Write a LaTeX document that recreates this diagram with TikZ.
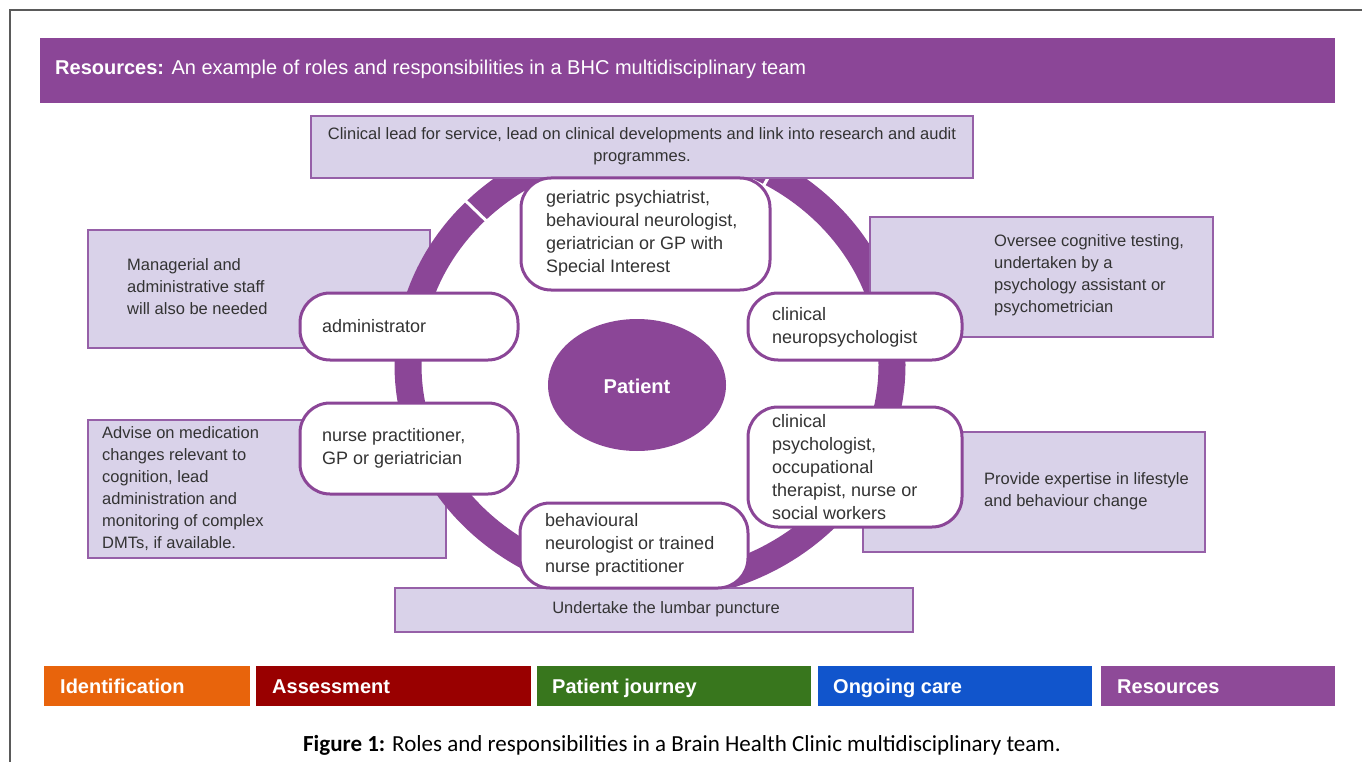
\documentclass[tikz,border=0pt]{standalone}
\usepackage{fontspec}
\setmainfont{Liberation Sans}
\newfontfamily\capfont{Carlito}
\usetikzlibrary{calc}

\definecolor{mdtpurple}{RGB}{139,70,151}
\definecolor{notefill}{RGB}{217,210,233}
\definecolor{noteedge}{RGB}{150,96,168}
\definecolor{textgray}{RGB}{51,51,51}
\definecolor{framegray}{RGB}{90,90,90}
\definecolor{idorange}{RGB}{232,100,12}
\definecolor{assessred}{RGB}{153,0,0}
\definecolor{journeygreen}{RGB}{56,118,29}
\definecolor{ongoingblue}{RGB}{17,85,204}
\definecolor{respurple}{RGB}{142,74,152}

\tikzset{
	notebox/.style={draw=noteedge, line width=1.5pt, fill=notefill},
	rolebox/.style={draw=mdtpurple, line width=3pt, fill=white, rounded corners=30pt},
	notetext/.style={anchor=west, align=left, inner sep=0pt, text=textgray, font=\fontsize{16.5}{22}\selectfont},
	roletext/.style={anchor=west, align=left, inner sep=0pt, text=textgray, font=\fontsize{18}{23}\selectfont},
	tabtext/.style={anchor=base west, inner sep=0pt, text=white, font=\bfseries\fontsize{20}{24}\selectfont},
}

\begin{document}
\begin{tikzpicture}[x=1pt, y=-1pt]
		\useasboundingbox (0,0) rectangle (1362,762);
		\draw [framegray, line width=1.5pt] (10,762) -- (10,10) -- (1362,10);
		\fill [mdtpurple] (40,38) rectangle (1335,103);
		\node [anchor=west, inner sep=0pt, text=white, font=\fontsize{20}{24}\selectfont] (title) at (55,69) {\textbf{Resources:} An example of roles and responsibilities in a BHC multidisciplinary team};
		\draw [notebox] (88,230) rectangle (430,348);
		\draw [notebox] (88,420) rectangle (446,558);
		\coordinate (ctr) at (650,365);
		\draw [mdtpurple, line width=27pt] (ctr) ellipse [x radius=242, y radius=222];
		\draw [white, line width=3pt] ($(ctr)+(-136:222 and 202)$) -- ($(ctr)+(-136:262 and 242)$);
		\draw [white, line width=3pt] ($(ctr)+(-60:222 and 202)$) -- ($(ctr)+(-60:262 and 242)$);
		\draw [notebox] (870,217) rectangle (1213,337);
		\draw [notebox] (863,432) rectangle (1205,552);
		\draw [notebox] (311,116) rectangle (973,178);
		\draw [notebox] (395,588) rectangle (913,632);
		\node [notetext, anchor=center, align=center] (leadnote) at (642,146) {Clinical lead for service, lead on clinical developments and link into research and audit\\programmes.};
		\node [notetext] (adminnote) at (127,287) {Managerial and\\administrative staff\\will also be needed};
		\node [notetext] (mednote) at (102,489) {Advise on medication\\changes relevant to\\cognition, lead\\administration and\\monitoring of complex\\DMTs, if available.};
		\node [notetext] (cognote) at (994,275) {Oversee cognitive testing,\\undertaken by a\\psychology assistant or\\psychometrician};
		\node [notetext] (lifenote) at (984,491) {Provide expertise in lifestyle\\and behaviour change};
		\node [notetext, anchor=center] (lumbarnote) at (666,609) {Undertake the lumbar puncture};
		\draw [fill=mdtpurple, draw=none] (637,385) ellipse [x radius=89, y radius=66];
		\node [inner sep=0pt, text=white, font=\bfseries\fontsize{20}{24}\selectfont] (patient) at (637,386) {Patient};
		\draw [rolebox] (521,178) rectangle (770,290);
		\node [roletext] (psychiatrist) at (546,233) {geriatric psychiatrist,\\behavioural neurologist,\\geriatrician or GP with\\Special Interest};
		\draw [rolebox] (300,293) rectangle (518,360);
		\node [roletext] (admin) at (322,326) {administrator};
		\draw [rolebox] (300,403) rectangle (518,494);
		\node [roletext] (nurse) at (322,448) {nurse practitioner,\\GP or geriatrician};
		\draw [rolebox] (748,293) rectangle (962,360);
		\node [roletext] (neuropsych) at (772,327) {clinical\\neuropsychologist};
		\draw [rolebox] (748,407) rectangle (962,527);
		\node [roletext] (clinpsych) at (772,467) {clinical\\psychologist,\\occupational\\therapist, nurse or\\social workers};
		\draw [rolebox] (520,503) rectangle (748,588);
		\node [roletext] (neurologist) at (545,545) {behavioural\\neurologist or trained\\nurse practitioner};
		\fill [idorange] (44,666) rectangle (250,706);
		\node [tabtext] (ident) at (60,693) {Identification};
		\fill [assessred] (256,666) rectangle (531,706);
		\node [tabtext] (assess) at (272,693) {Assessment};
		\fill [journeygreen] (537,666) rectangle (811,706);
		\node [tabtext] (journey) at (552,693) {Patient journey};
		\fill [ongoingblue] (818,666) rectangle (1092,706);
		\node [tabtext] (ongoing) at (833,693) {Ongoing care};
		\fill [respurple] (1101,666) rectangle (1335,706);
		\node [tabtext] (resources) at (1117,693) {Resources};
		\node [inner sep=0pt, font=\capfont\fontsize{23}{27}\selectfont] (caption) at (682,745) {\textbf{Figure 1:} Roles and responsibilities in a Brain Health Clinic multidisciplinary team.};
	\end{tikzpicture}
\end{document}
